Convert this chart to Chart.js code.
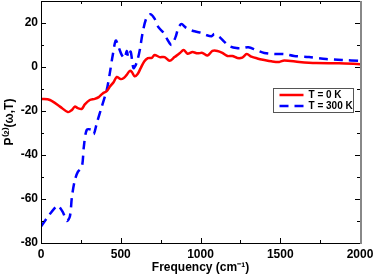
<!DOCTYPE html>
<html>
<head>
<meta charset="utf-8">
<script src="https://cdn.jsdelivr.net/npm/chart.js@4.4.0/dist/chart.umd.min.js"></script>
<style>
  html, body { margin: 0; padding: 0; background: #fff; }
  #wrap { width: 374px; height: 277px; }
</style>
</head>
<body>
<div id="wrap"><canvas id="grafico" width="374" height="277"></canvas></div>
<script>
// frequencies (cm-1) and P(2) values
var freq0K = [0, 56, 119, 169, 194, 212, 231, 256, 275, 306, 337, 362, 387, 412, 431, 456, 475, 500,
  519, 537, 556, 569, 587, 606, 625, 647, 670, 695, 712, 744, 775, 806, 837, 869, 894, 919, 950, 981,
  1012, 1044, 1075, 1106, 1137, 1169, 1200, 1231, 1262, 1290, 1319, 1356, 1400, 1444, 1494, 1525,
  1619, 1725, 1869, 2000];
var p0K = [-14.5, -15, -18, -20.5, -19.5, -18, -18.7, -19, -17, -15, -14.5, -13.7, -12, -11, -9, -6.8,
  -4.5, -5.5, -5, -3.6, -1.8, -2.2, -4.2, -3.2, -0.5, 2.5, 4, 4.2, 5.5, 4.5, 4.5, 2.8, 4.5, 6.2, 7.7,
  6, 6.8, 6.2, 6.4, 5.2, 7.3, 7.3, 6.4, 5, 5, 4.1, 4.3, 5.9, 4.7, 3.9, 3.2, 2.6, 2.3, 3.0,
  2.3, 1.8, 1.7, 1.3];

var freq300K = [0, 44, 87, 106, 137, 162, 181, 194, 212, 231, 256, 269, 287, 319, 331, 350, 381, 412,
  431, 450, 469, 487, 506, 525, 537, 548, 562, 580, 600, 620, 637, 662, 687, 712, 737, 769, 794, 819,
  844, 862, 881, 906, 937, 975, 1006, 1037, 1069, 1087, 1119, 1150, 1181, 1225, 1262, 1300, 1350,
  1400, 1462, 1525, 1587, 1681, 1787, 1887, 2000];
var p300K = [-72.5, -68, -64, -63, -66, -70, -68, -59, -51.5, -47.7, -45.5, -36, -28.6, -28.6, -30.5,
  -25.5, -18, -10.5, -3, 5.5, 12, 9, 5.5, 4, 7.3, 4.5, 7, -0.5, 2, 8, 15.5, 22.5, 24, 22, 18, 15.5,
  12.3, 10, 13.7, 18, 19.5, 18, 16.8, 16, 15.5, 14.5, 14, 15, 13.6, 11.4, 9.5, 8.6, 8.6, 9, 7.7,
  6.4, 5.9, 5.9, 5, 4.5, 3.6, 3.2, 2.8];

var seriesLabels = ['T = 0 K', 'T = 300 K'];
var xTicks = [0, 500, 1000, 1500, 2000];
var yTicks = [-80, -60, -40, -20, 0, 20];

function pontos(xs, ys) {
  return xs.map(function (x, i) { return { x: x, y: ys[i] }; });
}

Chart.defaults.font.family = '"Liberation Sans", Arial, sans-serif';
Chart.defaults.font.weight = 'bold';
Chart.defaults.font.size = 12;
Chart.defaults.color = '#000';

// frame, inward ticks on all four sides, and the boxed legend
var moldura = {
  id: 'moldura',
  afterDraw: function (chart) {
    var c = chart.ctx, a = chart.chartArea;
    var sx = chart.scales.x, sy = chart.scales.y;
    c.save();
    c.strokeStyle = '#000';
    c.lineWidth = 1;
    c.beginPath();
    var v, p;
    for (v = 0; v <= 2000; v += 250) {
      p = Math.round(sx.getPixelForValue(v)) + 0.5;
      var len = (v % 500 === 0) ? 5 : 3;
      c.moveTo(p, a.bottom); c.lineTo(p, a.bottom - len);
      c.moveTo(p, a.top); c.lineTo(p, a.top + len);
    }
    for (v = -80; v <= 30; v += 10) {
      p = Math.round(sy.getPixelForValue(v)) + 0.5;
      var l2 = (v % 20 === 0) ? 5 : 3;
      c.moveTo(a.left, p); c.lineTo(a.left + l2, p);
      c.moveTo(a.right, p); c.lineTo(a.right - l2, p);
    }
    c.stroke();
    c.strokeRect(Math.round(a.left) + 0.5, Math.round(a.top) + 0.5,
      Math.round(a.right - a.left), Math.round(a.bottom - a.top));
    c.strokeStyle = '#888';
    c.lineWidth = 2;
    c.beginPath();
    c.moveTo(Math.round(a.right) + 1, a.top);
    c.lineTo(Math.round(a.right) + 1, a.bottom + 1);
    c.stroke();

    // legend
    var bx = 273.5, by = 88.5, bw = 80, bh = 24;
    c.fillStyle = '#fff';
    c.fillRect(bx, by, bw, bh);
    c.strokeStyle = '#555';
    c.lineWidth = 1;
    c.strokeRect(bx, by, bw, bh);
    c.font = 'bold 10px "Liberation Sans", Arial, sans-serif';
    c.textBaseline = 'middle';
    chart.data.datasets.forEach(function (ds, i) {
      var yy = by + 6.5 + i * 11;
      c.strokeStyle = ds.borderColor;
      c.lineWidth = 2.5;
      c.setLineDash(ds.borderDash || []);
      c.beginPath();
      c.moveTo(bx + 6, yy); c.lineTo(bx + 30, yy);
      c.stroke();
      c.setLineDash([]);
      c.fillStyle = '#000';
      c.fillText(ds.label, bx + 35, yy + 0.5);
    });
    c.restore();
  }
};

var ctx = document.getElementById('grafico').getContext('2d');
var grafico = new Chart(ctx, {
  type: 'line',
  data: {
    datasets: [{
      label: seriesLabels[0],
      data: pontos(freq0K, p0K),
      borderColor: '#ff0000',
      borderWidth: 2.5,
      pointRadius: 0,
      tension: 0.3,
      fill: false
    }, {
      label: seriesLabels[1],
      data: pontos(freq300K, p300K),
      borderColor: '#0000ff',
      borderWidth: 2.5,
      borderDash: [9, 6],
      pointRadius: 0,
      tension: 0.3,
      fill: false
    }]
  },
  options: {
    responsive: false,
    animation: false,
    layout: { padding: { left: 0, right: 14, top: 1, bottom: 0 } },
    scales: {
      x: {
        type: 'linear',
        min: 0, max: 2000,
        grid: { display: false, drawTicks: false },
        border: { display: false },
        afterBuildTicks: function (s) { s.ticks = xTicks.map(function (v) { return { value: v }; }); },
        afterFit: function (s) { s.height = 34; s.paddingLeft = 0; s.paddingRight = 0; },
        ticks: { padding: 4, maxRotation: 0, font: { size: 12, weight: 'bold' },
          callback: function (v) { return String(v); } },
        title: { display: true, text: 'Frequency (cm\u207B\u00B9)', padding: { top: 0, bottom: 2 },
          font: { size: 12, weight: 'bold' } }
      },
      y: {
        min: -80, max: 30,
        grid: { display: false, drawTicks: false },
        border: { display: false },
        afterBuildTicks: function (s) { s.ticks = yTicks.map(function (v) { return { value: v }; }); },
        afterFit: function (s) { s.width = 41; s.paddingTop = 0; s.paddingBottom = 0; },
        ticks: { padding: 3, font: { size: 12, weight: 'bold' },
          callback: function (v) { return String(v); } },
        title: { display: true, text: 'P\u207D\u00B2\u207E(\u03C9,T)', padding: { top: 2, bottom: 0 },
          font: { size: 12, weight: 'bold' } }
      }
    },
    plugins: {
      legend: { display: false },
      tooltip: { enabled: false }
    }
  },
  plugins: [moldura]
});
</script>
</body>
</html>
